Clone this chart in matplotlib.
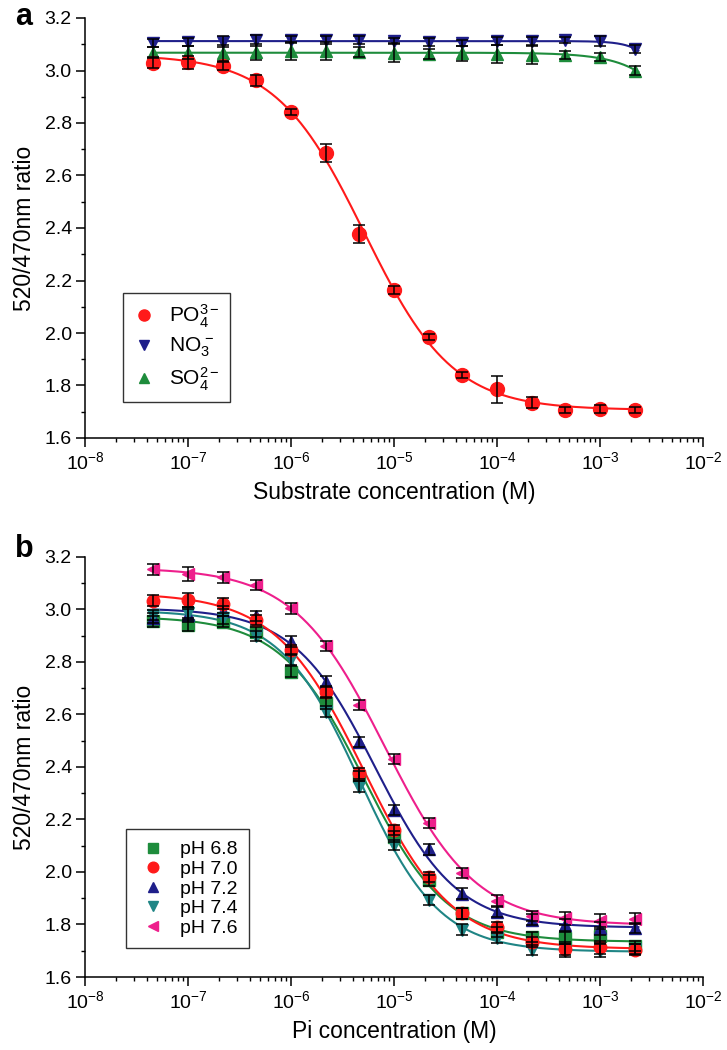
import numpy as np
import matplotlib
matplotlib.use('Agg')
import matplotlib.pyplot as plt
from matplotlib.ticker import FixedLocator, LogLocator, MultipleLocator, NullFormatter

plt.rcParams['font.family'] = ['Liberation Sans', 'DejaVu Sans']
plt.rcParams['mathtext.fontset'] = 'custom'
plt.rcParams['mathtext.rm'] = 'Liberation Sans'
plt.rcParams['mathtext.it'] = 'Liberation Sans:italic'
plt.rcParams['mathtext.bf'] = 'Liberation Sans:bold'

# concentrations (M), same for every series
conc = [4.6e-8, 1e-7, 2.2e-7, 4.6e-7, 1e-6, 2.2e-6, 4.6e-6, 1e-5,
        2.2e-5, 4.6e-5, 1e-4, 2.2e-4, 4.6e-4, 1e-3, 2.2e-3]
decades = [1e-8, 1e-7, 1e-6, 1e-5, 1e-4, 1e-3, 1e-2]

# panel a: anions
po4 = [3.03, 3.032, 3.018, 2.962, 2.842, 2.685, 2.377, 2.163, 1.985,
       1.840, 1.785, 1.735, 1.707, 1.710, 1.707]
po4_err = [0.02, 0.025, 0.015, 0.02, 0.012, 0.035, 0.035, 0.015, 0.012,
           0.012, 0.05, 0.02, 0.01, 0.015, 0.01]
no3 = [3.105, 3.11, 3.11, 3.115, 3.118, 3.115, 3.115, 3.112, 3.11,
       3.105, 3.112, 3.112, 3.115, 3.112, 3.082]
no3_err = [0.015, 0.015, 0.02, 0.02, 0.015, 0.015, 0.015, 0.012, 0.015,
           0.012, 0.015, 0.015, 0.012, 0.02, 0.015]
so4 = [3.068, 3.068, 3.068, 3.07, 3.075, 3.075, 3.07, 3.068, 3.062,
       3.065, 3.062, 3.058, 3.058, 3.052, 3.0]
so4_err = [0.02, 0.025, 0.03, 0.03, 0.035, 0.035, 0.02, 0.035, 0.02,
           0.03, 0.035, 0.035, 0.015, 0.015, 0.018]

# panel b: pH series
ph68 = [2.955, 2.942, 2.954, 2.915, 2.763, 2.642, 2.365, 2.135, 1.968,
        1.842, 1.771, 1.752, 1.750, 1.756, 1.718]
ph70 = [3.034, 3.036, 3.022, 2.960, 2.846, 2.687, 2.376, 2.160, 1.980,
        1.842, 1.790, 1.733, 1.708, 1.714, 1.704]
ph72 = [2.968, 2.978, 2.995, 2.976, 2.878, 2.725, 2.496, 2.236, 2.086,
        1.918, 1.848, 1.819, 1.797, 1.786, 1.786]
ph74 = [2.979, 2.985, 2.966, 2.899, 2.810, 2.611, 2.325, 2.103, 1.894,
        1.780, 1.748, 1.703, 1.700, 1.700, 1.706]
ph76 = [3.153, 3.135, 3.122, 3.093, 3.004, 2.861, 2.636, 2.430, 2.187,
        1.996, 1.891, 1.832, 1.823, 1.814, 1.822]
ph_err = [0.02, 0.025, 0.02, 0.02, 0.02, 0.02, 0.02, 0.02, 0.02,
          0.02, 0.02, 0.02, 0.025, 0.025, 0.02]


def fit_sigmoid(x, y):
    """Least squares 4-parameter logistic fit (grid over EC50 and slope)."""
    lx = np.log10(x)
    y = np.asarray(y)
    lec, hill = np.meshgrid(np.arange(-8, 0.5, 0.01), np.arange(0.3, 3.0, 0.01))
    lec, hill = lec.ravel(), hill.ravel()
    f = 1.0 / (1.0 + 10 ** ((lx[None, :] - lec[:, None]) * hill[:, None]))
    fm = f.mean(axis=1, keepdims=True)
    b = ((f - fm) * (y - y.mean())).sum(axis=1) / (((f - fm) ** 2).sum(axis=1) + 1e-12)
    a = y.mean() - b * fm[:, 0]
    sse = ((y[None, :] - a[:, None] - b[:, None] * f) ** 2).sum(axis=1)
    i = np.argmin(sse)
    xs = np.logspace(lx[0], lx[-1] + 0.03, 300)
    ys = a[i] + b[i] / (1.0 + 10 ** ((np.log10(xs) - lec[i]) * hill[i]))
    return xs, ys


def style_axes(ax, xlabel):
    ax.set_xscale('log')
    ax.set_xlim(1e-8, 1e-2)
    ax.set_ylim(1.6, 3.2)
    ax.yaxis.set_major_locator(MultipleLocator(0.2))
    ax.yaxis.set_minor_locator(MultipleLocator(0.1))
    ax.yaxis.set_major_formatter(plt.FormatStrFormatter('%.1f'))
    ax.xaxis.set_major_locator(FixedLocator(decades))
    ax.xaxis.set_minor_locator(LogLocator(base=10, subs=np.arange(2, 10), numticks=10))
    ax.xaxis.set_minor_formatter(NullFormatter())
    for s in ['top', 'right']:
        ax.spines[s].set_visible(False)
    for s in ['left', 'bottom']:
        ax.spines[s].set_linewidth(1.1)
    ax.tick_params(which='major', direction='out', length=6.5, width=1.1,
                   labelsize=14, pad=3)
    ax.tick_params(which='minor', direction='out', length=3.2, width=1.0)
    ax.set_ylabel('520/470nm ratio', fontsize=16.5, labelpad=6)
    ax.set_xlabel(xlabel, fontsize=16.5, labelpad=6)


def draw(ax, y, err, color, marker, label, ms=9):
    xs, ys = fit_sigmoid(conc, y)
    ax.plot(xs, ys, color=color, lw=1.5, zorder=2)
    ax.plot(conc, y, linestyle='none', marker=marker, color=color, ms=ms,
            mec=color, label=label, zorder=3)
    ax.errorbar(conc, y, yerr=err, fmt='none', ecolor='black', elinewidth=1.1,
                capsize=4, capthick=1.1, zorder=4)


fig = plt.figure(figsize=(7.27, 10.5), dpi=100)
ax1 = fig.add_axes([85 / 727, 1 - 438 / 1050, 618 / 727, 420 / 1050])
ax2 = fig.add_axes([85 / 727, 1 - 977 / 1050, 618 / 727, 420 / 1050])

red = '#ff1a1a'
navy = '#1f1f8a'
green = '#1e8c3c'
teal = '#1f8585'
pink = '#ee1f8c'

draw(ax1, no3, no3_err, navy, 'v', 'NO$_3^{\\,-}$')
draw(ax1, so4, so4_err, green, '^', 'SO$_4^{2-}$')
draw(ax1, po4, po4_err, red, 'o', 'PO$_4^{3-}$', ms=10)
style_axes(ax1, 'Substrate concentration (M)')
h, l = ax1.get_legend_handles_labels()
order = [2, 0, 1]
leg = ax1.legend([h[i] for i in order], [l[i] for i in order], loc='lower left',
                 bbox_to_anchor=(0.044, 0.06), fontsize=15, frameon=True,
                 fancybox=False, edgecolor='black', markerscale=0.8,
                 labelspacing=0.3, handletextpad=0.6, borderpad=0.45,
                 handlelength=1.2)
leg.get_frame().set_linewidth(1.0)

draw(ax2, ph68, ph_err, green, 's', 'pH 6.8', ms=8)
draw(ax2, ph72, ph_err, navy, '^', 'pH 7.2')
draw(ax2, ph74, ph_err, teal, 'v', 'pH 7.4')
draw(ax2, ph70, ph_err, red, 'o', 'pH 7.0')
draw(ax2, ph76, ph_err, pink, '<', 'pH 7.6')
style_axes(ax2, 'Pi concentration (M)')
h, l = ax2.get_legend_handles_labels()
order = [0, 3, 1, 2, 4]
leg = ax2.legend([h[i] for i in order], [l[i] for i in order], loc='lower left',
                 bbox_to_anchor=(0.05, 0.045), fontsize=14, frameon=True,
                 fancybox=False, edgecolor='black', markerscale=0.85,
                 labelspacing=0.1, handletextpad=0.6, borderpad=0.6,
                 handlelength=1.6)
leg.get_frame().set_linewidth(1.0)

fig.text(15 / 727, 1 - 25 / 1050, 'a', fontsize=22, fontweight='bold')
fig.text(15 / 727, 1 - 557 / 1050, 'b', fontsize=22, fontweight='bold')

fig.savefig('out.png', dpi=100)
